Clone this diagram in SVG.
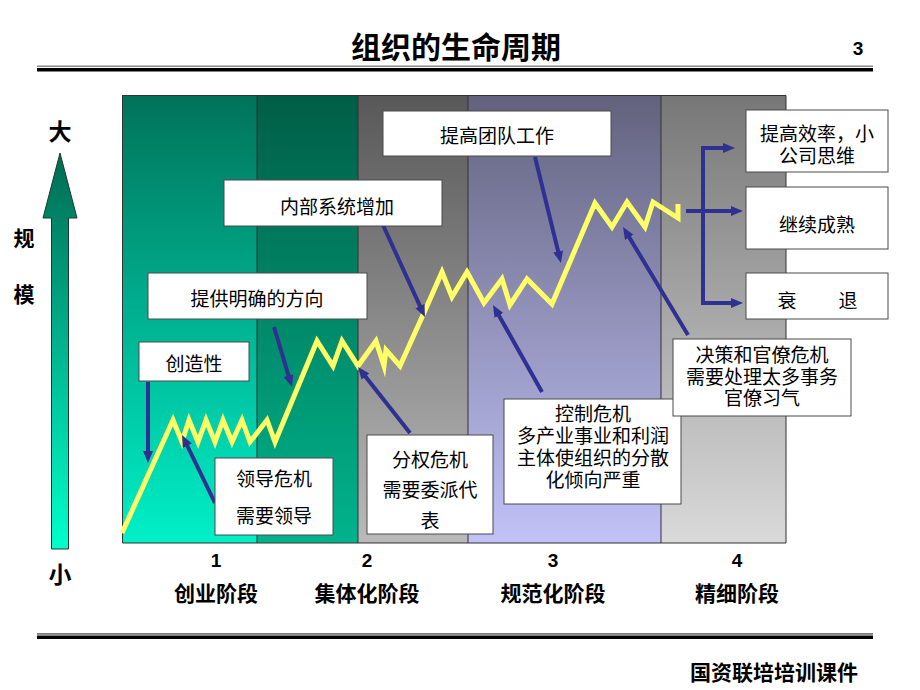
<svg xmlns="http://www.w3.org/2000/svg" width="920" height="690" viewBox="0 0 920 690">
<defs>
<style>
.cjk{font-family:"Noto Sans CJK SC","Noto Sans CJK TC",sans-serif;}
.bold{font-weight:bold;}
.box{fill:#ffffff;stroke:#4a4a4a;stroke-width:1;}
.bt{font-family:"Noto Sans CJK SC",sans-serif;font-size:19px;fill:#000;text-anchor:middle;dominant-baseline:central;}
.lab{font-family:"Noto Sans CJK SC",sans-serif;font-size:21px;font-weight:bold;fill:#000;text-anchor:middle;dominant-baseline:central;}
.num{font-family:"Liberation Sans",Arial,sans-serif;font-size:19px;font-weight:bold;fill:#000;text-anchor:middle;dominant-baseline:central;}
.arr{fill:none;stroke:#2f3192;stroke-width:4;marker-end:url(#ah);}
.div{fill:none;stroke:#333;stroke-width:1;}
</style>
<marker id="ah" markerUnits="userSpaceOnUse" markerWidth="14" markerHeight="12" refX="2" refY="5" orient="auto">
<path d="M0,0 L12,5 L0,10 z" fill="#2f3192"/>
</marker>
<linearGradient id="g1" x1="0" y1="0" x2="0" y2="1"><stop offset="0" stop-color="#00735a"/><stop offset="1" stop-color="#00f0c8"/></linearGradient>
<linearGradient id="g2" x1="0" y1="0" x2="0" y2="1"><stop offset="0" stop-color="#005e46"/><stop offset="1" stop-color="#00b48c"/></linearGradient>
<linearGradient id="g3" x1="0" y1="0" x2="0" y2="1"><stop offset="0" stop-color="#585858"/><stop offset="1" stop-color="#bababa"/></linearGradient>
<linearGradient id="g4" x1="0" y1="0" x2="0" y2="1"><stop offset="0" stop-color="#62627e"/><stop offset="1" stop-color="#c2c2f8"/></linearGradient>
<linearGradient id="g5" x1="0" y1="0" x2="0" y2="1"><stop offset="0" stop-color="#777777"/><stop offset="1" stop-color="#dadada"/></linearGradient>
<linearGradient id="ga" x1="0" y1="0" x2="0" y2="1"><stop offset="0" stop-color="#006b52"/><stop offset="1" stop-color="#00ffcc"/></linearGradient>
</defs>
<rect width="920" height="690" fill="#ffffff"/>

<g id="header">
<text x="456" y="45" class="cjk bold" font-size="30" text-anchor="middle" dominant-baseline="central">组织的生命周期</text>
<text x="858" y="48" font-family="Liberation Sans, Arial, sans-serif" font-size="19" font-weight="bold" text-anchor="middle" dominant-baseline="central">3</text>
<rect x="37" y="65.5" width="836" height="1.5" fill="#8a8a8a"/>
<rect x="37" y="68" width="836" height="3.5" fill="#000"/>
</g>

<g id="stages">
<rect x="122" y="95" width="135" height="448" fill="url(#g1)"/>
<rect x="257" y="95" width="101" height="448" fill="url(#g2)"/>
<rect x="358" y="95" width="110" height="448" fill="url(#g3)"/>
<rect x="468" y="95" width="193" height="448" fill="url(#g4)"/>
<rect x="661" y="95" width="125" height="448" fill="url(#g5)"/>
<path class="div" d="M122.5,95.5 H786 V543 H122.5 Z M257,95 V543 M358,95 V543 M468,95 V543 M661,95 V543"/>
</g>

<g id="axis">
<path d="M51.5,549 V218 H43 L60,153 L77,218 H68.5 V549 Z" fill="url(#ga)" stroke="#1a3a30" stroke-width="1"/>
<text x="60" y="130" class="cjk bold" font-size="23" text-anchor="middle" dominant-baseline="central">大</text>
<text x="24" y="237" class="cjk bold" font-size="21" text-anchor="middle" dominant-baseline="central">规</text>
<text x="24" y="293" class="cjk bold" font-size="21" text-anchor="middle" dominant-baseline="central">模</text>
<text x="60" y="573" class="cjk bold" font-size="23" text-anchor="middle" dominant-baseline="central">小</text>
</g>

<g id="curve">
<polyline fill="none" stroke="#ffff66" stroke-width="5" stroke-linejoin="miter" stroke-miterlimit="10"
points="122,533 173,420 182,442 189,420 198,442 206,420 215,442 223,420 232,442 242,420 250,442 267,420 275,442 317,341 333,366 342,341 358,366 376,341 384,366 386,350 400,366 423,315 442,272 452,297 467,272 484,303 502,279 510,305 527,279 552,304 595,203 612,227 627,202 645,227 653,202 678,218 678,204"/>
</g>

<g id="connectors">
<path class="arr" d="M148,382 L148,453"/>
<path class="arr" d="M215,503 L186.4,444"/>
<path class="arr" d="M274,327 L289.1,377.4"/>
<path class="arr" d="M383,225 L420.8,307.9"/>
<path class="arr" d="M410,433 L364.2,374.9"/>
<path class="arr" d="M535,157 L558.6,253.3"/>
<path class="arr" d="M542,392 L497.9,313.7"/>
<path class="arr" d="M688,335 L628.2,235.6"/>
<path class="arr" d="M686,211 L733,211"/>
<path class="arr" d="M703,211 V148 H725"/>
<path class="arr" d="M703,211 V303 H733"/>
</g>

<g id="n-tuandui">
<rect class="box" x="383" y="111" width="228" height="45"/>
<text class="bt" x="497" y="134">提高团队工作</text>
</g>
<g id="n-neibu">
<rect class="box" x="224" y="180" width="218" height="46"/>
<text class="bt" x="337" y="205">内部系统增加</text>
</g>
<g id="n-fangxiang">
<rect class="box" x="148" y="273" width="219" height="46"/>
<text class="bt" x="257" y="297">提供明确的方向</text>
</g>
<g id="n-chuangzao">
<rect class="box" x="139" y="342" width="110" height="39"/>
<text class="bt" x="194" y="362">创造性</text>
</g>
<g id="n-lingdao">
<rect class="box" x="215" y="458" width="118" height="77"/>
<text class="bt" x="274" y="477">领导危机<tspan x="274" dy="37">需要领导</tspan></text>
</g>
<g id="n-fenquan">
<rect class="box" x="367" y="435" width="126" height="99"/>
<text class="bt" x="430" y="458">分权危机<tspan x="430" dy="30">需要委派代</tspan><tspan x="430" dy="31">表</tspan></text>
</g>
<g id="n-kongzhi">
<rect class="box" x="504" y="399" width="177" height="105"/>
<text class="bt" x="593" y="412">控制危机<tspan x="593" dy="22">多产业事业和利润</tspan><tspan x="593" dy="22">主体使组织的分散</tspan><tspan x="593" dy="22">化倾向严重</tspan></text>
</g>
<g id="n-juece">
<rect class="box" x="673" y="339" width="178" height="77"/>
<text class="bt" x="762" y="353">决策和官僚危机<tspan x="762" dy="22">需要处理太多事务</tspan><tspan x="762" dy="21">官僚习气</tspan></text>
</g>
<g id="n-xiaolv">
<rect class="box" x="746" y="110" width="142" height="62"/>
<text class="bt" x="817" y="132">提高效率，小<tspan x="817" dy="22">公司思维</tspan></text>
</g>
<g id="n-chengshu">
<rect class="box" x="746" y="187" width="142" height="62"/>
<text class="bt" x="817" y="223">继续成熟</text>
</g>
<g id="n-shuaitui">
<rect class="box" x="746" y="273" width="142" height="46"/>
<text class="bt" x="787" y="299">衰<tspan x="848">退</tspan></text>
</g>

<g id="stage-labels">
<text class="num" x="216" y="560">1</text>
<text class="lab" x="216" y="592">创业阶段</text>
<text class="num" x="367" y="560">2</text>
<text class="lab" x="367" y="592">集体化阶段</text>
<text class="num" x="553" y="560">3</text>
<text class="lab" x="553" y="592">规范化阶段</text>
<text class="num" x="737" y="560">4</text>
<text class="lab" x="737" y="592">精细阶段</text>
</g>

<g id="footer">
<rect x="37" y="633" width="836" height="1.8" fill="#7a7a7a"/>
<rect x="37" y="635.5" width="836" height="3.5" fill="#000"/>
<text x="858" y="671" class="cjk bold" font-size="21" text-anchor="end" dominant-baseline="central">国资联培培训课件</text>
</g>
</svg>
